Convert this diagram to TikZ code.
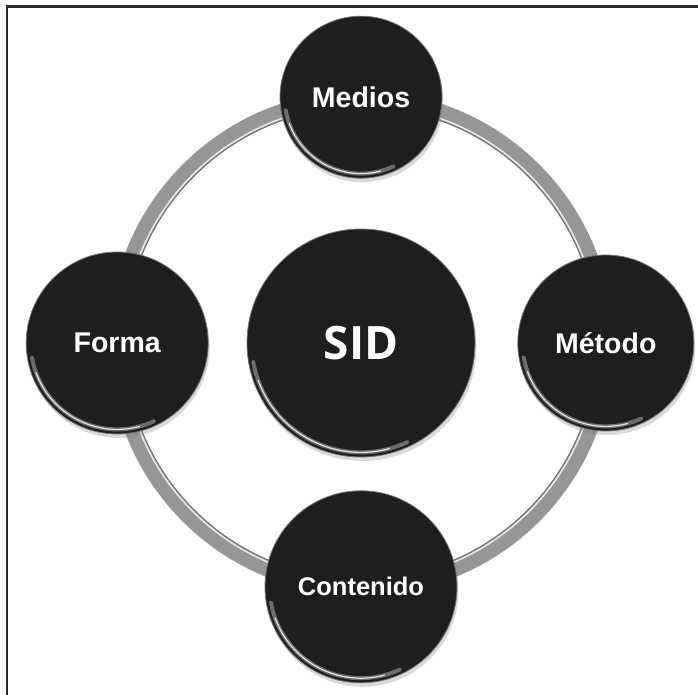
\documentclass[tikz,border=0pt]{standalone}
\usepackage{fontspec}
\setmainfont{Liberation Sans}
\newfontfamily\sidfont{Open Sans}
\definecolor{discblack}{RGB}{30, 30, 30}
\definecolor{ringgray}{RGB}{150, 150, 150}
\definecolor{framegray}{RGB}{45, 45, 45}
\usetikzlibrary{positioning,calc,shadows}

\begin{document}
\begin{tikzpicture}[x=1pt, y=1pt,
    disc/.style={circle, fill=discblack, draw=black!55, line width=0.8pt, text=white, inner sep=0pt,
        font=\fontsize{28.5}{31}\selectfont\bfseries,
        drop shadow={shadow xshift=1.5pt, shadow yshift=-4pt, opacity=0.3}},
    rim/.style={white, opacity=0.35, line width=4pt, line cap=round},
    shine/.style={white, opacity=0.8, line width=1.2pt, line cap=round}]
    \useasboundingbox (0,0) rectangle (698,695);

    % frame, top and left side only
    \draw[framegray, line width=2.5pt] (7,0) -- (7,688.5) -- (698,688.5);

    % ring behind the discs
    \coordinate (hub) at (361,352);
    \draw[ringgray, line width=16pt] (hub) circle (244);
    \draw[white, line width=1.5pt, opacity=0.8] (hub) circle (238);
    \draw[black!60, line width=0.8pt] (hub) circle (236);
    \draw[black!40, line width=0.6pt] (hub) circle (252);

    \node[disc, minimum size=228pt, font=\sidfont\fontsize{46}{50}\selectfont\bfseries] (sid) at (hub) {SID};
    \node[disc, minimum size=162pt, above=50pt of sid] (medios) {Medios};
    \node[disc, minimum size=182pt, left=38pt of sid] (forma) {Forma};
    \node[disc, minimum size=176pt, right=42pt of sid] (metodo) {Método};
    \node[disc, minimum size=192pt, below=33pt of sid, font=\fontsize{25.5}{28}\selectfont\bfseries] (contenido) {Contenido};

    % glossy edge
    \foreach \d in {sid,medios,forma,metodo,contenido}{
        \draw[rim] let \p1 = ($(\d.east)-(\d.center)$) in
            ($(\d.center)+(190:{\x1-5pt})$) arc[start angle=190, end angle=295, radius=\x1-5pt];
        \draw[shine] let \p1 = ($(\d.east)-(\d.center)$) in
            ($(\d.center)+(200:{\x1-5pt})$) arc[start angle=200, end angle=285, radius=\x1-5pt];
    }
\end{tikzpicture}
\end{document}
